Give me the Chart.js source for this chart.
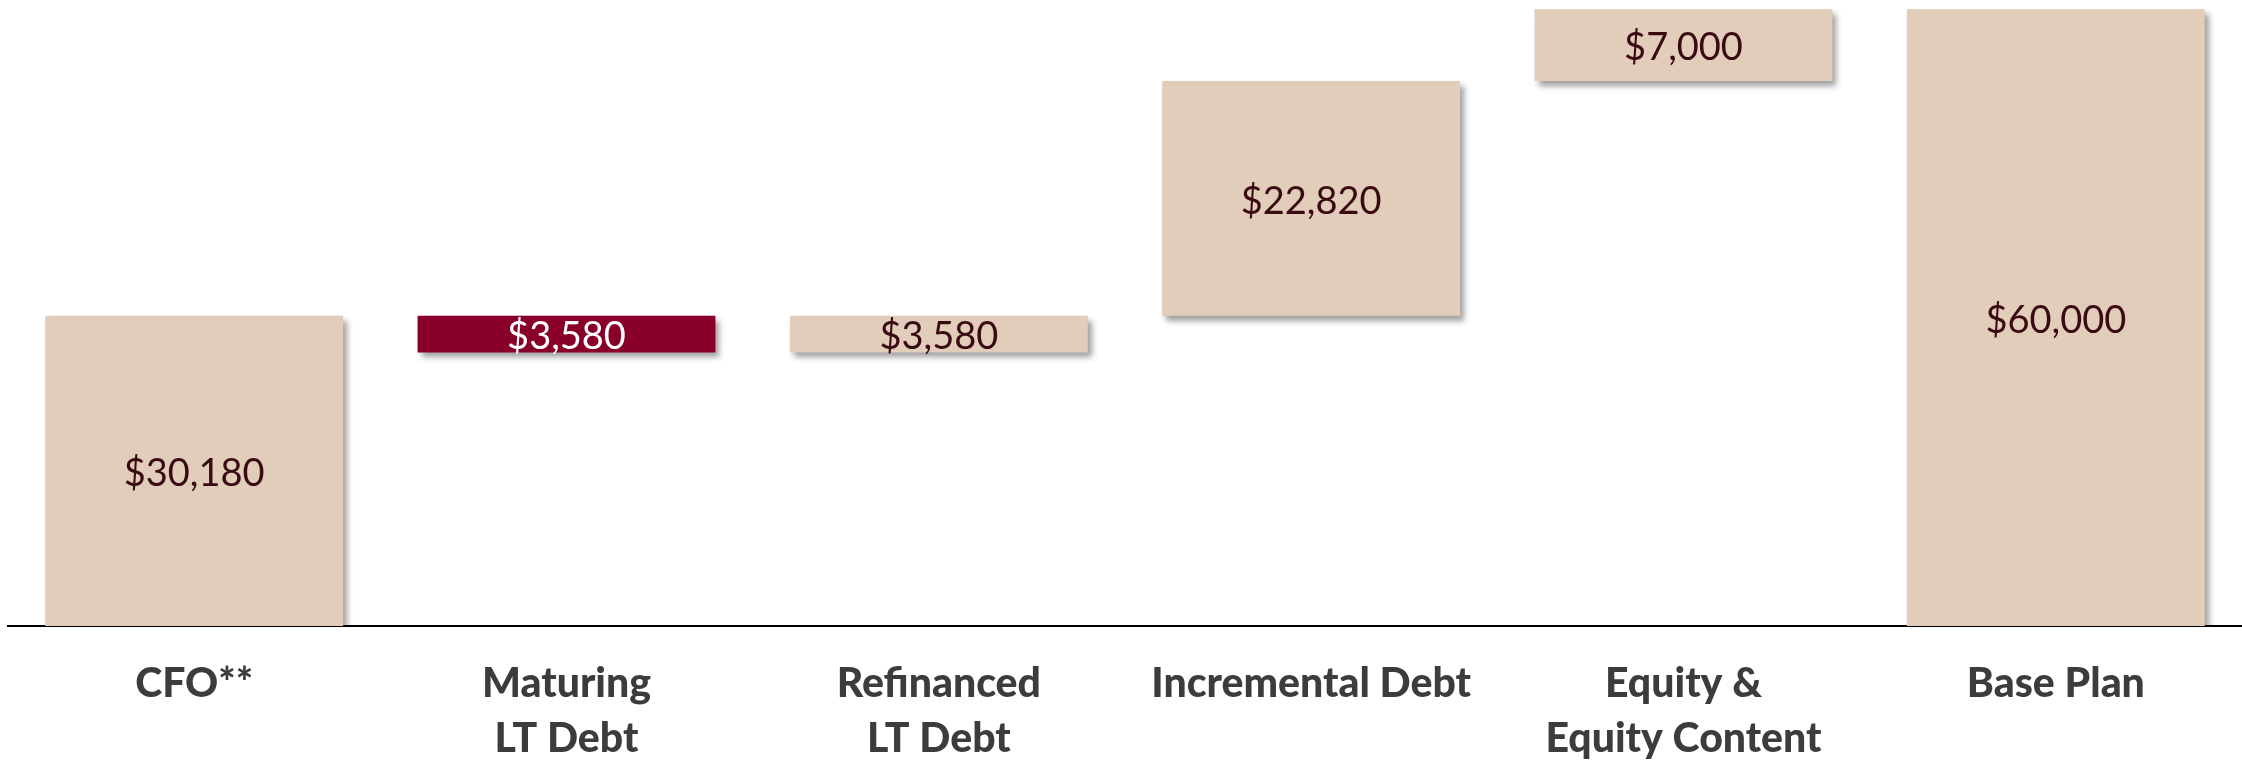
<!DOCTYPE html>
<html>
<head>
<meta charset="utf-8">
<title>Sources of funding</title>
<script src="https://cdn.jsdelivr.net/npm/chart.js@4.4.1/dist/chart.umd.min.js"></script>
<style>
  html, body { margin: 0; padding: 0; background: #ffffff; }
  #wrap { width: 2242px; height: 761px; }
</style>
</head>
<body>
<div id="wrap"><canvas id="bridgeChart"></canvas></div>
<script>
// Categorias e valores do gráfico (bridge / waterfall)
const categories = ['CFO**', ['Maturing', 'LT Debt'], ['Refinanced', 'LT Debt'], 'Incremental Debt', ['Equity &', 'Equity Content'], 'Base Plan'];
const barStart = [0, 26600, 26600, 30180, 53000, 0];
const barEnd = [30180, 30180, 30180, 53000, 60000, 60000];
const barColors = ['#E2CCBA', '#88002A', '#E2CCBA', '#E2CCBA', '#E2CCBA', '#E2CCBA'];
const labelColors = ['#3A0A12', '#FFFFFF', '#3A0A12', '#3A0A12', '#3A0A12', '#3A0A12'];

// Sombra nas barras + rótulos de valor no centro
const barShadowAndLabels = {
    id: 'barShadowAndLabels',
    beforeDatasetsDraw(chart) {
        const ctx = chart.ctx;
        ctx.save();
        ctx.shadowColor = 'rgba(0, 0, 0, 0.38)';
        ctx.shadowBlur = 6;
        ctx.shadowOffsetX = 4;
        ctx.shadowOffsetY = 5;
    },
    afterDatasetsDraw(chart) {
        const ctx = chart.ctx;
        ctx.restore();

        const meta = chart.getDatasetMeta(0);
        ctx.save();
        ctx.font = '38px Lato, "Noto Sans", sans-serif';
        ctx.textAlign = 'center';
        ctx.textBaseline = 'middle';
        meta.data.forEach((bar, i) => {
            const amount = Math.abs(barEnd[i] - barStart[i]);
            const y = (bar.y + bar.base) / 2 + 3;
            ctx.fillStyle = labelColors[i];
            ctx.fillText('$' + amount.toLocaleString('en-US'), bar.x, y);
        });
        ctx.restore();
    }
};

const ctx = document.getElementById('bridgeChart');

new Chart(ctx, {
    type: 'bar',
    data: {
        labels: categories,
        datasets: [{
            data: barStart.map((s, i) => [s, barEnd[i]]),
            backgroundColor: barColors,
            borderWidth: 0,
            borderSkipped: false,
            barPercentage: 0.8,
            categoryPercentage: 1.0
        }]
    },
    options: {
        responsive: true,
        maintainAspectRatio: false,
        animation: false,
        layout: {
            padding: { top: 9, left: 8, right: 0, bottom: 0 }
        },
        plugins: {
            legend: { display: false },
            tooltip: { enabled: false }
        },
        scales: {
            x: {
                z: 1,
                grid: { display: false, drawTicks: false },
                border: { display: true, color: '#000000', width: 2 },
                ticks: {
                    color: '#3C3C3C',
                    padding: 31,
                    font: { family: 'Lato, "Noto Sans", sans-serif', size: 41, weight: 900, lineHeight: 1.33 },
                    maxRotation: 0,
                    autoSkip: false
                },
                afterFit(scale) {
                    scale.height = 135;
                }
            },
            y: {
                display: false,
                min: 0,
                max: 60000
            }
        }
    },
    plugins: [barShadowAndLabels]
});
</script>
</body>
</html>
